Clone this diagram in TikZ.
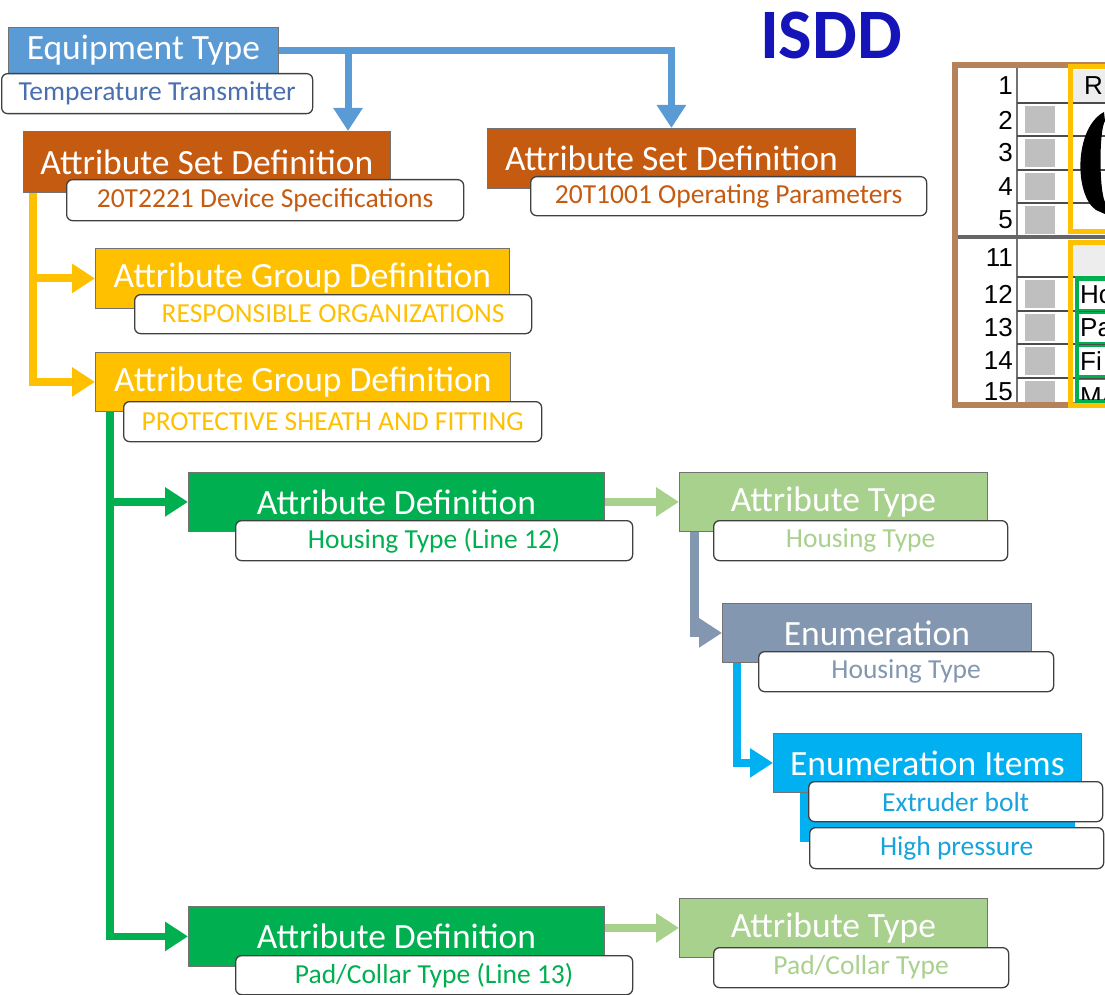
\documentclass[tikz,border=0pt]{standalone}
\usepackage{fontspec}
\setmainfont{Carlito}
\newfontfamily\tabfont{Liberation Sans}
\usetikzlibrary{arrows.meta,calc,backgrounds}

\definecolor{cEq}{HTML}{5B9BD5}
\definecolor{cEqTxt}{HTML}{4A6FAE}
\definecolor{cSet}{HTML}{C55A11}
\definecolor{cGrp}{HTML}{FFC000}
\definecolor{cDef}{HTML}{00B050}
\definecolor{cTyp}{HTML}{A9D18E}
\definecolor{cEnum}{HTML}{8497B0}
\definecolor{cItem}{HTML}{00B0F0}
\definecolor{cItemTxt}{HTML}{17A3DB}
\definecolor{cTitle}{HTML}{1414B8}
\definecolor{cFrame}{HTML}{B5835A}
\definecolor{cCell}{HTML}{BFBFBF}
\definecolor{cHead}{HTML}{EDEDED}

\tikzset{
  hdr/.style={draw=black!55, line width=0.8pt, text=white, anchor=north west,
    inner sep=0pt, font=\fontsize{35.5}{37}\selectfont},
  lbl/.style={draw=black!75, line width=1.3pt, fill=white, rounded corners=6pt,
    anchor=north west, inner sep=0pt, font=\fontsize{27.5}{29}\selectfont},
  conn/.style={line width=7.5pt, -{Triangle[width=28pt,length=23pt]}},
  numtxt/.style={anchor=east, inner sep=0pt, font=\tabfont\fontsize{26}{26}\selectfont},
  celltxt/.style={anchor=west, inner sep=0pt, font=\tabfont\fontsize{26}{26}\selectfont},
}

\begin{document}
\begin{tikzpicture}[x=1pt,y=-1pt]
\useasboundingbox (0,0) rectangle (1105,995);

% title
\node[anchor=center, inner sep=0pt, text=cTitle, font=\bfseries\fontsize{71}{71}\selectfont] (title) at (831,35) {ISDD};

% equipment type
\node[hdr, fill=cEq, minimum width=270pt, minimum height=46pt] (eq) at (8,27) {Equipment Type};
\node[lbl, text=cEqTxt, minimum width=311pt, minimum height=40pt] (eqL) at (1,73) {Temperature Transmitter};

% attribute sets
\node[hdr, fill=cSet, minimum width=367pt, minimum height=61pt] (asd1) at (23,131) {Attribute Set Definition};
\node[lbl, text=cSet, minimum width=397pt, minimum height=41pt] (asd1L) at (66,179) {20T2221 Device Specifications};
\node[hdr, fill=cSet, minimum width=368pt, minimum height=60pt] (asd2) at (487,128) {Attribute Set Definition};
\node[lbl, text=cSet, minimum width=396pt, minimum height=39pt] (asd2L) at (530,176) {20T1001 Operating Parameters};

% attribute groups
\node[hdr, fill=cGrp, minimum width=414pt, minimum height=60pt] (agd1) at (95,248) {Attribute Group Definition};
\node[lbl, text=cGrp, minimum width=397pt, minimum height=39pt] (agd1L) at (134,294) {RESPONSIBLE ORGANIZATIONS};
\node[hdr, fill=cGrp, minimum width=415pt, minimum height=59pt] (agd2) at (95,352) {Attribute Group Definition};
\node[lbl, text=cGrp, minimum width=418pt, minimum height=40pt] (agd2L) at (123,401) {PROTECTIVE SHEATH AND FITTING};

% attribute definitions and types
\node[hdr, fill=cDef, minimum width=416pt, minimum height=59pt] (ad1) at (188,472) {Attribute Definition};
\node[lbl, text=cDef, minimum width=397pt, minimum height=40pt] (ad1L) at (235,520) {Housing Type (Line 12)};
\node[hdr, fill=cTyp, minimum width=308pt, minimum height=59pt] (at1) at (679,472) {Attribute Type};
\node[lbl, text=cTyp, minimum width=294pt, minimum height=40pt] (at1L) at (713,520) {Housing Type};

\node[hdr, fill=cDef, minimum width=416pt, minimum height=60pt] (ad2) at (188,906) {Attribute Definition};
\node[lbl, text=cDef, minimum width=397pt, minimum height=39pt] (ad2L) at (235,955) {Pad/Collar Type (Line 13)};
\node[hdr, fill=cTyp, minimum width=308pt, minimum height=59pt] (at2) at (679,898) {Attribute Type};
\node[lbl, text=cTyp, minimum width=295pt, minimum height=40pt] (at2L) at (713,947) {Pad/Collar Type};

% enumeration
\node[hdr, fill=cEnum, minimum width=309pt, minimum height=59pt] (enum) at (722,603) {Enumeration};
\node[lbl, text=cEnum, minimum width=295pt, minimum height=40pt] (enumL) at (758,651) {Housing Type};

% enumeration items (stacked card behind the item labels)
\fill[cItem] (800,785) rectangle (1075,842);
\node[hdr, fill=cItem, minimum width=308pt, minimum height=59pt] (items) at (773,733) {Enumeration Items};
\node[lbl, text=cItemTxt, minimum width=294pt, minimum height=40pt] (item1) at (808,781) {Extruder bolt};
\node[lbl, text=cItemTxt, minimum width=294pt, minimum height=41pt] (item2) at (809,827) {High pressure};

% connector anchors
\coordinate (a1in) at ($(asd1.north west)+(325,0)$);
\coordinate (ytop) at ($(asd1.south west)+(10,0)$);
\coordinate (gtop) at ($(agd2.south west)+(15,0)$);
\coordinate (stop) at ($(at1.south west)+(15,0)$);
\coordinate (ctop) at ($(enum.south west)+(15,0)$);

\begin{pgfonlayer}{background}
  \draw[conn, cEq, line width=7pt] (eq.east) -- (eq.east -| asd2.north) -- (asd2.north);
  \draw[conn, cEq, line width=7pt] (eq.east -| a1in) -- (a1in);
  \draw[conn, cGrp, line width=8pt] (ytop) |- (agd2.west);
  \draw[conn, cGrp, line width=8pt] (ytop |- agd1.west) -- (agd1.west);
  \draw[conn, cDef] (gtop) |- (ad2.west);
  \draw[conn, cDef] (gtop |- ad1.west) -- (ad1.west);
  \draw[conn, cTyp, line width=8pt] (ad1.east) -- (at1.west);
  \draw[conn, cTyp, line width=8pt] (ad2.east |- at2.west) -- (at2.west);
  \draw[conn, cEnum, line width=9pt] (stop) |- (enum.west);
  \draw[conn, cItem] (ctop) |- (items.west);
\end{pgfonlayer}

% spreadsheet extract
\begin{scope}
  \clip (940,55) rectangle (1105,415);
  \draw[cFrame, fill=white, line width=6pt] (955,65) rectangle (1130,405);
  % number column
  \draw[black!55, line width=1.5pt] (1017,68) -- (1017,402);
  \foreach \y in {103,136,170,203,277,311,344,378}
    \draw[black!70, line width=1.2pt] (1017,\y) -- (1130,\y);
  \draw[black!60, line width=4pt] (958,237) -- (1130,237);
  % grey marker cells
  \foreach \a/\b in {106/133,139/167,173/200,206/234,280/308,314/341,347/375,381/402}
    \fill[cCell] (1025,\a) rectangle (1055,\b);
  % row numbers
  \foreach \n/\y in {1/86,2/120,3/153,4/187,5/220,11/258,12/294,13/328,14/361,15/392}
    \node[numtxt] (row\n) at (1013,\y) {\n};
  % first yellow block
  \fill[cHead] (1072,70) rectangle (1130,102);
  \draw[cGrp, line width=5pt] (1070,67) rectangle (1130,231);
  \node[celltxt] (cellR) at (1084,86) {R};
  \fill[black] (1104,112) .. controls (1074,128) and (1074,195) .. (1096,210)
     -- (1105,214) -- (1105,202) .. controls (1099,190) and (1099,130) .. (1105,121) -- cycle;
  % second yellow block with green group
  \fill[cHead] (1072,244) rectangle (1130,276);
  \draw[cGrp, line width=5pt] (1070,242) rectangle (1130,405);
  \fill[cDef] (1075,276) rectangle (1130,403);
  \foreach \a/\b in {281/309,314/342,347/375,380/399}
    \fill[white] (1079,\a) rectangle (1130,\b);
  \draw[black!70, line width=1pt] (1079,311) -- (1130,311) (1079,344) -- (1130,344) (1079,378) -- (1130,378);
  \node[celltxt] (cellHo) at (1080,295) {Ho};
  \node[celltxt] (cellPa) at (1080,328) {Pa};
  \node[celltxt] (cellFi) at (1080,361) {Fi};
  \begin{scope}
    \clip (1079,380) rectangle (1130,399);
    \node[celltxt] (cellMa) at (1080,397) {MA};
  \end{scope}
\end{scope}
\end{tikzpicture}
\end{document}
